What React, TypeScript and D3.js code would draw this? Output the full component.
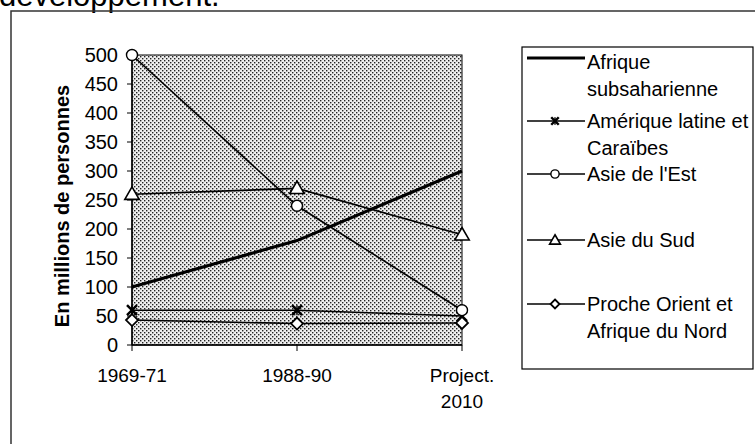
import * as d3 from "d3";

const W = 755;
const H = 444;

const periods = ["1969-71", "1988-90", "Project. 2010"];
const yTicks = [0, 50, 100, 150, 200, 250, 300, 350, 400, 450, 500];

const afriqueSub = [100, 180, 300];
const ameriqueLatine = [60, 60, 50];
const asieEst = [500, 240, 60];
const asieSud = [260, 270, 190];
const procheOrient = [43, 37, 38];

const seriesNames = [
  ["Afrique", "subsaharienne"],
  ["Amérique latine et", "Caraïbes"],
  ["Asie de l'Est"],
  ["Asie du Sud"],
  ["Proche Orient et", "Afrique du Nord"],
];
const seriesValues = [afriqueSub, ameriqueLatine, asieEst, asieSud, procheOrient];
const seriesMarkers = ["none", "star", "circle", "triangle", "diamond"];
const legendY = [58, 121, 174, 240, 304];

const FONT = "Arial, 'Liberation Sans', sans-serif";

const Marker = ({ kind, x, y, k = 1 }: { kind: string; x: number; y: number; k?: number }) => {
  if (kind === "circle")
    return <circle cx={x} cy={y} r={5.5 * k} fill="white" stroke="black" strokeWidth={1.4} />;
  if (kind === "triangle") {
    const p = d3.symbol(d3.symbolTriangle, 90 * k * k)();
    return <path d={p!} transform={`translate(${x},${y + 1})`} fill="white" stroke="black" strokeWidth={1.6} />;
  }
  if (kind === "diamond") {
    const s = 6 * k;
    return (
      <path
        d={`M${x},${y - s}L${x + s},${y}L${x},${y + s}L${x - s},${y}Z`}
        fill="white"
        stroke="black"
        strokeWidth={1.8}
      />
    );
  }
  if (kind === "star") {
    const s = 5 * k;
    return (
      <g stroke="black" strokeWidth={2.4}>
        <line x1={x - s} y1={y - s} x2={x + s} y2={y + s} />
        <line x1={x - s} y1={y + s} x2={x + s} y2={y - s} />
        <line x1={x} y1={y - s} x2={x} y2={y + s} strokeWidth={1.4} />
      </g>
    );
  }
  return null;
};

export default function App() {
  const plot = { left: 132, right: 462, top: 55, bottom: 345 };
  const x = d3.scalePoint<string>().domain(periods).range([plot.left, plot.right]);
  const y = d3.scaleLinear().domain([0, 500]).range([plot.bottom, plot.top]);
  const line = d3
    .line<number>()
    .x((_, i) => x(periods[i])!)
    .y((d) => y(d));

  return (
    <div style={{ position: "fixed", left: 0, top: 0 }}>
      <svg width={W} height={H} style={{ display: "block", background: "white" }} fontFamily={FONT}>
        <defs>
          <pattern id="dots" width={4} height={4} patternUnits="userSpaceOnUse">
            <rect width={4} height={4} fill="#eeeeee" />
            <rect x={0} y={0} width={1.4} height={1.4} fill="#222" />
            <rect x={2} y={2} width={1.4} height={1.4} fill="#222" />
          </pattern>
        </defs>

        {/* title, cut off at the top as in the scan */}
        <text x={-1} y={6} fontSize={31} fill="black">développement.</text>

        {/* outer frame */}
        <path d={`M11,${H}V11H${W}`} fill="none" stroke="#333" strokeWidth={1.5} />

        {/* plot area */}
        <rect
          x={plot.left}
          y={plot.top}
          width={plot.right - plot.left}
          height={plot.bottom - plot.top}
          fill="url(#dots)"
          stroke="black"
          strokeWidth={1}
        />
        <line x1={plot.left} x2={plot.left} y1={plot.top} y2={plot.bottom} stroke="black" strokeWidth={1.5} />
        <line x1={plot.left} x2={plot.right} y1={plot.bottom} y2={plot.bottom} stroke="black" strokeWidth={1.5} />

        {/* y axis */}
        {yTicks.map((t) => (
          <g key={t}>
            <line x1={plot.left - 5} x2={plot.left} y1={y(t)} y2={y(t)} stroke="black" />
            <text x={plot.left - 14} y={y(t)} dy="0.35em" textAnchor="end" fontSize={20}>
              {t}
            </text>
          </g>
        ))}
        <text
          transform={`translate(62,${(plot.top + plot.bottom) / 2 + 6}) rotate(-90)`}
          textAnchor="middle"
          fontSize={20}
          fontWeight="bold"
          dy="0.35em"
        >
          En millions de personnes
        </text>

        {/* x axis */}
        {periods.map((p) => (
          <g key={p}>
            <line x1={x(p)} x2={x(p)} y1={plot.bottom} y2={plot.bottom + 6} stroke="black" />
            {p.split(" ").map((w, j) => (
              <text key={j} x={x(p)} y={382 + j * 26} textAnchor="middle" fontSize={19}>
                {w}
              </text>
            ))}
          </g>
        ))}

        {/* series */}
        {seriesValues.map((vals, i) => (
          <g key={i}>
            <path
              d={line(vals)!}
              fill="none"
              stroke="black"
              strokeWidth={i === 0 ? 3.2 : 1.6}
            />
            {vals.map((v, j) => (
              <Marker key={j} kind={seriesMarkers[i]} x={x(periods[j])!} y={y(v)} />
            ))}
          </g>
        ))}

        {/* legend */}
        <rect x={522} y={47} width={231} height={322} fill="white" stroke="black" strokeWidth={1.2} />
        {seriesNames.map((lines, i) => (
          <g key={i}>
            <line
              x1={527}
              x2={585}
              y1={legendY[i]}
              y2={legendY[i]}
              stroke="black"
              strokeWidth={i === 0 ? 3 : 1.5}
            />
            <Marker kind={seriesMarkers[i]} x={555} y={legendY[i]} k={0.75} />
            {lines.map((l, j) => (
              <text key={j} x={587} y={legendY[i] + (i === 0 ? 4 : 0) + j * 27} dy="0.35em" fontSize={20}>
                {l}
              </text>
            ))}
          </g>
        ))}
      </svg>
    </div>
  );
}
